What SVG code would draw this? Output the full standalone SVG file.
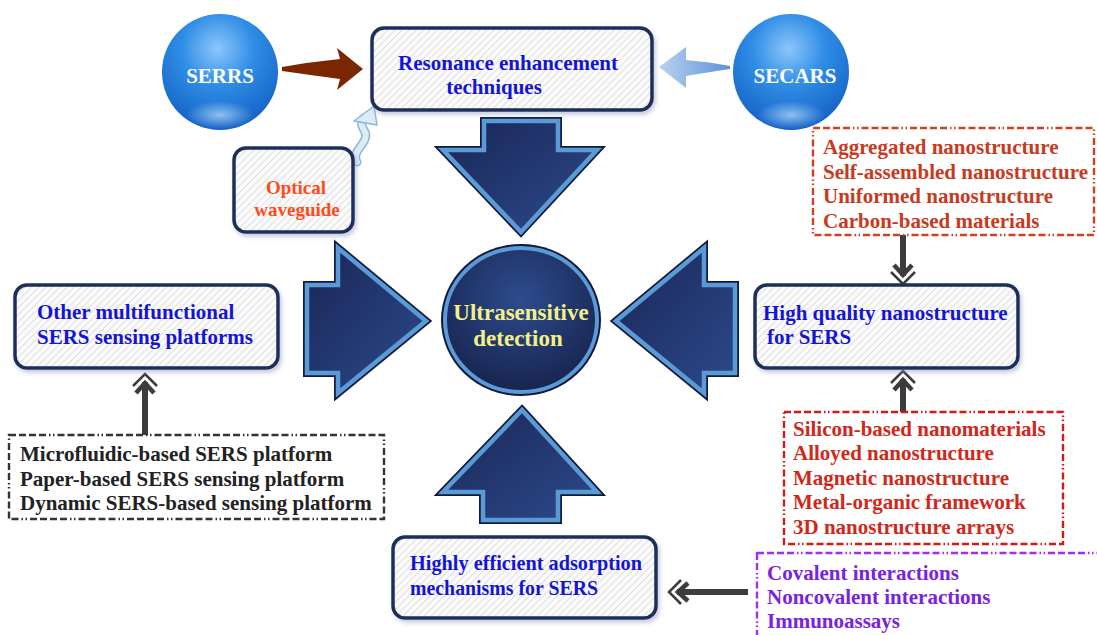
<svg xmlns="http://www.w3.org/2000/svg" width="1097" height="635" viewBox="0 0 1097 635">
<style>
text{font-family:"Liberation Serif","Times New Roman",serif;font-weight:bold;font-size:21px}
.blue{fill:#1414d6}
.box{fill:url(#hatch);stroke:#1f2d5c;stroke-width:3.5;filter:url(#sh)}
.bigo{fill:none;stroke:#101a40;stroke-width:8;stroke-linejoin:miter}
.bigi{fill:url(#navy);stroke:#5b9bd5;stroke-width:4.5;stroke-linejoin:miter}
.dash{fill:none;stroke-width:2.4;stroke-dasharray:7 3 7 3 7 3 7 3 1.5 2.5 1.5 3}
.chv{fill:none;stroke:#3c3c3c;stroke-linejoin:miter}
.shaft{stroke:#3c3c3c;stroke-width:6}
</style>
<defs>
<pattern id="hatch" width="5" height="5" patternUnits="userSpaceOnUse" patternTransform="rotate(45)">
<rect width="5" height="5" fill="#fbfbfc"/><line x1="0" y1="0" x2="0" y2="5" stroke="#dedede" stroke-width="2"/>
</pattern>
<filter id="sh" x="-10%" y="-10%" width="125%" height="130%">
<feDropShadow dx="2" dy="3" stdDeviation="2" flood-color="#7f8db0" flood-opacity="0.45"/>
</filter>
<linearGradient id="navy" x1="0" y1="0" x2="1" y2="1">
<stop offset="0" stop-color="#1a2656"/><stop offset="1" stop-color="#2c4a8c"/>
</linearGradient>
<radialGradient id="navyc" cx="0.5" cy="0.35" r="0.65">
<stop offset="0" stop-color="#2d4c8e"/><stop offset="1" stop-color="#18244f"/>
</radialGradient>
<radialGradient id="sph" cx="0.48" cy="0.3" r="0.7">
<stop offset="0" stop-color="#8dc6fb"/><stop offset="0.45" stop-color="#2f8de6"/><stop offset="1" stop-color="#1462c4"/>
</radialGradient>
<radialGradient id="glow" cx="0.5" cy="0.5" r="0.5">
<stop offset="0" stop-color="#bfe0ff" stop-opacity="0.7"/><stop offset="1" stop-color="#bfe0ff" stop-opacity="0"/>
</radialGradient>
<linearGradient id="lb" x1="0" y1="0" x2="1" y2="0">
<stop offset="0" stop-color="#b9d3ef"/><stop offset="1" stop-color="#5d91d6"/>
</linearGradient>
<g id="chev">
<polyline class="chv" points="-12,13 0,1 12,13" stroke-width="2.5"/>
<polyline class="chv" points="-9,20 0,10 9,20" stroke-width="4.5"/>
</g>
</defs>
<rect width="1097" height="635" fill="#ffffff"/>

<g id="connectors">
<path d="M282,67 Q310,62 340,59 L337,48 L363,69 L337,90 L340,79 Q310,75 282,71 Z" fill="#7a2600"/>
<path d="M730,66 Q710,62 686,60 L686,47 L659,67 L686,88 L686,76 Q710,72 730,69 Z" fill="url(#lb)"/>
<path d="M357,162 C350,150 372,142 364,130 C360,124 362,120 364,118" fill="none" stroke="#8db8d4" stroke-width="9" stroke-linecap="round"/>
<path d="M357,162 C350,150 372,142 364,130 C360,124 362,120 364,118" fill="none" stroke="#dcebf6" stroke-width="6" stroke-linecap="round"/>
<polygon points="374,106 354,121 377,125" fill="#dcebf6" stroke="#8db8d4" stroke-width="1.5" stroke-linejoin="round"/>
<polygon class="bigo" points="484,121 558,121 558,150 597,150 521,232 443,150 484,150"/>
<polygon class="bigi" points="484,121 558,121 558,150 597,150 521,232 443,150 484,150"/>
<polygon class="bigo" points="522,410 597,492 558,492 558,520 483,520 483,492 443,492"/>
<polygon class="bigi" points="522,410 597,492 558,492 558,520 483,520 483,492 443,492"/>
<polygon class="bigo" points="307,285 338,285 338,248 426,321 338,393 338,373 307,373"/>
<polygon class="bigi" points="307,285 338,285 338,248 426,321 338,393 338,373 307,373"/>
<polygon class="bigo" points="735,285 704,285 704,248 616,321 704,393 704,373 735,373"/>
<polygon class="bigi" points="735,285 704,285 704,248 616,321 704,393 704,373 735,373"/>
<line class="shaft" x1="145" y1="382" x2="145" y2="435"/>
<use href="#chev" transform="translate(145,373)"/>
<line class="shaft" x1="903" y1="235" x2="903" y2="276"/>
<use href="#chev" transform="translate(903,285) rotate(180)"/>
<line class="shaft" x1="903" y1="379" x2="903" y2="412"/>
<use href="#chev" transform="translate(903,370)"/>
<line class="shaft" x1="677" y1="592" x2="748" y2="592" stroke-width="7"/>
<use href="#chev" transform="translate(668,592) rotate(-90)"/>
</g>

<g id="serrs">
<circle cx="220" cy="72" r="58" fill="url(#sph)"/>
<ellipse cx="220" cy="115" rx="34" ry="14" fill="url(#glow)"/>
<text x="220" y="83" text-anchor="middle" fill="#ffffff">SERRS</text>
</g>
<g id="secars">
<circle cx="791" cy="72" r="58" fill="url(#sph)"/>
<ellipse cx="791" cy="115" rx="34" ry="14" fill="url(#glow)"/>
<text x="795" y="83" text-anchor="middle" fill="#ffffff">SECARS</text>
</g>
<g id="resonance">
<rect class="box" x="372" y="28" width="280" height="82" rx="12"/>
<text class="blue" x="508" y="70" text-anchor="middle">Resonance enhancement</text>
<text class="blue" x="494" y="94" text-anchor="middle">techniques</text>
</g>
<g id="optical">
<rect class="box" x="234" y="148" width="119" height="84" rx="12"/>
<text x="296" y="194" text-anchor="middle" fill="#ff4a1a" style="font-size:19px">Optical</text>
<text x="297" y="216" text-anchor="middle" fill="#ff4a1a" style="font-size:19px">waveguide</text>
</g>
<g id="center">
<ellipse cx="521" cy="320" rx="80" ry="76" fill="#101a40"/>
<ellipse cx="521" cy="320" rx="76" ry="72" fill="url(#navyc)" stroke="#5b9bd5" stroke-width="4"/>
<text x="521" y="320" text-anchor="middle" fill="#f3f08a" style="font-size:23px">Ultrasensitive</text>
<text x="518" y="346" text-anchor="middle" fill="#f3f08a" style="font-size:23px">detection</text>
</g>
<g id="other">
<rect class="box" x="15" y="285" width="263" height="83" rx="12"/>
<text class="blue" x="37" y="319">Other multifunctional</text>
<text class="blue" x="37" y="344">SERS sensing platforms</text>
</g>
<g id="highquality">
<rect class="box" x="755" y="285" width="263" height="83" rx="12"/>
<text class="blue" x="763" y="320">High quality nanostructure</text>
<text class="blue" x="767" y="344">for SERS</text>
</g>
<g id="highly">
<rect class="box" x="393" y="537" width="263" height="81" rx="12"/>
<text class="blue" x="410" y="570" textLength="232" lengthAdjust="spacingAndGlyphs">Highly efficient adsorption</text>
<text class="blue" x="410" y="595" textLength="188" lengthAdjust="spacingAndGlyphs">mechanisms for SERS</text>
</g>
<g id="platforms">
<rect class="dash" x="9" y="435" width="375" height="84" stroke="#333333"/>
<text x="20" y="461" fill="#222222">Microfluidic-based SERS platform</text>
<text x="20" y="486" fill="#222222">Paper-based SERS sensing platform</text>
<text x="20" y="510" fill="#222222">Dynamic SERS-based sensing platform</text>
</g>
<g id="aggregated">
<rect class="dash" x="813" y="128" width="281" height="107" stroke="#d2401e"/>
<text x="823" y="154" fill="#c83a1e">Aggregated nanostructure</text>
<text x="823" y="179" fill="#c83a1e">Self-assembled nanostructure</text>
<text x="823" y="203" fill="#c83a1e">Uniformed nanostructure</text>
<text x="823" y="228" fill="#c83a1e">Carbon-based materials</text>
</g>
<g id="silicon">
<rect class="dash" x="784" y="412" width="279" height="132" stroke="#d41818"/>
<text x="793" y="436" fill="#d0281a">Silicon-based nanomaterials</text>
<text x="793" y="460" fill="#d0281a">Alloyed nanostructure</text>
<text x="793" y="485" fill="#d0281a">Magnetic nanostructure</text>
<text x="793" y="509" fill="#d0281a">Metal-organic framework</text>
<text x="793" y="534" fill="#d0281a">3D nanostructure arrays</text>
</g>
<g id="interactions">
<rect class="dash" x="757" y="553" width="350" height="95" stroke="#a42ef0"/>
<text x="767" y="580" fill="#7a22e0">Covalent interactions</text>
<text x="767" y="604" fill="#7a22e0">Noncovalent interactions</text>
<text x="767" y="628" fill="#7a22e0">Immunoassays</text>
</g>
</svg>
